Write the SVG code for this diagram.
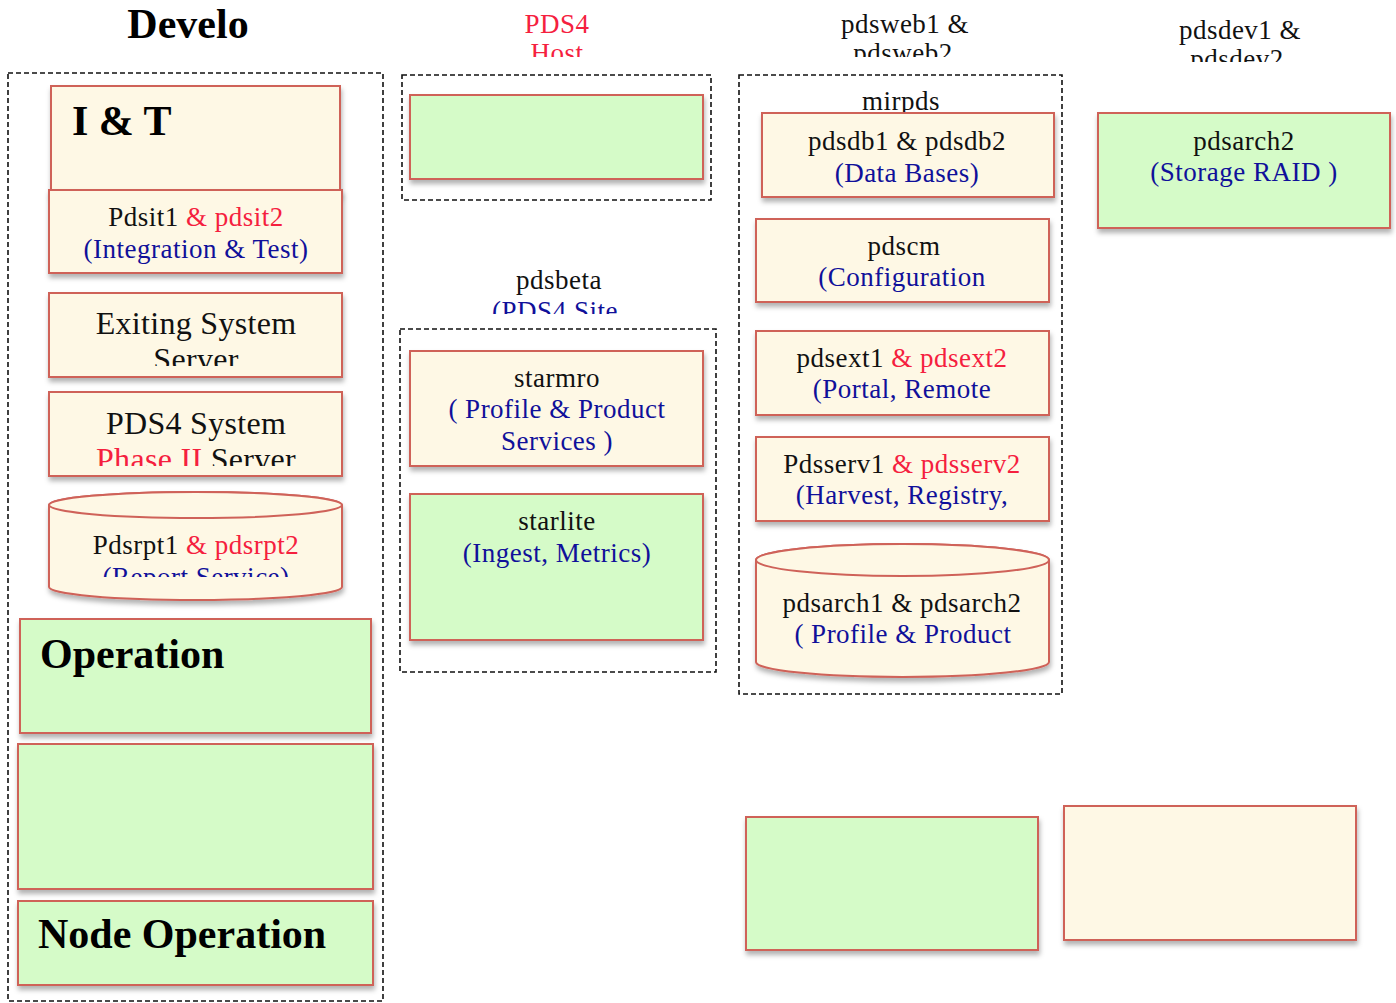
<svg xmlns="http://www.w3.org/2000/svg" width="1396" height="1003" viewBox="0 0 1396 1003">
<style>
.dash{fill:none;stroke:#111;stroke-width:1.6;stroke-dasharray:5,3}
.cream{fill:#fef8e5;stroke:#cf6259;stroke-width:2}
.green{fill:#d5fbc8;stroke:#cf6259;stroke-width:2}
.t{font-family:"Liberation Serif","Times New Roman",serif;font-size:27px;fill:#111;text-anchor:middle;letter-spacing:0.5px}
.big{font-size:32px;letter-spacing:0.3px}
.hd{font-family:"Liberation Serif","Times New Roman",serif;font-size:42px;font-weight:bold;fill:#000}
.red{fill:#f5203e}
.blue{fill:#10109a}
</style>
<defs>
<filter id="sh" x="-5%" y="-5%" width="112%" height="125%">
<feDropShadow dx="1" dy="4" stdDeviation="2.5" flood-color="#000" flood-opacity="0.3"/>
</filter>
<clipPath id="cHost"><rect x="400" y="0" width="320" height="57"/></clipPath>
<clipPath id="cWeb"><rect x="740" y="0" width="330" height="57"/></clipPath>
<clipPath id="cDev"><rect x="1090" y="0" width="300" height="62"/></clipPath>
<clipPath id="cBeta"><rect x="400" y="240" width="320" height="74"/></clipPath>
<clipPath id="cExit"><rect x="49" y="293" width="293" height="73"/></clipPath>
<clipPath id="cPds4"><rect x="49" y="392" width="293" height="74"/></clipPath>
<clipPath id="cRpt"><rect x="49" y="520" width="293" height="57"/></clipPath>
</defs>
<rect width="1396" height="1003" fill="#fff"/>

<g id="containers">
<rect class="dash" x="8" y="73" width="375" height="928"/>
<rect class="dash" x="402" y="75" width="309" height="125"/>
<rect class="dash" x="400" y="329" width="316" height="343"/>
<rect class="dash" x="739" y="75" width="323" height="619"/>
</g>

<g id="titles">
<text class="hd" x="188" y="38" text-anchor="middle">Develo</text>
<g clip-path="url(#cHost)"><text class="t red" x="557" y="33">PDS4</text><text class="t red" x="557" y="62">Host</text></g>
<g clip-path="url(#cWeb)"><text class="t" x="905" y="33">pdsweb1 &amp;</text><text class="t" x="903" y="62">pdsweb2</text></g>
<g clip-path="url(#cDev)"><text class="t" x="1240" y="39">pdsdev1 &amp;</text><text class="t" x="1237" y="68">pdsdev2</text></g>
<g clip-path="url(#cBeta)"><text class="t" x="559" y="289">pdsbeta</text><text class="t blue" x="555" y="320">(PDS4 Site</text></g>
<text class="t" x="901" y="110">mirpds</text>
</g>

<g id="connectors"></g>

<g id="it">
<rect class="cream" x="51" y="86" width="289" height="110" filter="url(#sh)"/>
<text class="hd" x="72" y="135">I &amp; T</text>
</g>
<g id="pdsit">
<rect class="cream" x="49" y="190" width="293" height="83" filter="url(#sh)"/>
<text class="t" x="196" y="226">Pdsit1 <tspan class="red">&amp; pdsit2</tspan></text>
<text class="t blue" x="196" y="258">(Integration &amp; Test)</text>
</g>
<g id="exiting">
<rect class="cream" x="49" y="293" width="293" height="84" filter="url(#sh)"/>
<g clip-path="url(#cExit)"><text class="t big" x="196" y="334">Exiting System</text><text class="t big" x="196" y="370">Server</text></g>
</g>
<g id="pds4sys">
<rect class="cream" x="49" y="392" width="293" height="84" filter="url(#sh)"/>
<g clip-path="url(#cPds4)"><text class="t big" x="196" y="434">PDS4 System</text><text class="t big" x="196" y="470"><tspan class="red">Phase II</tspan> Server</text></g>
</g>
<g id="pdsrpt">
<path class="cream" d="M49,505 A146.5,13 0 0 1 342,505 L342,587 A146.5,13 0 0 1 49,587 Z" filter="url(#sh)"/>
<ellipse class="cream" cx="195.5" cy="505" rx="146.5" ry="13"/>
<text class="t" x="196" y="554">Pdsrpt1 <tspan class="red">&amp; pdsrpt2</tspan></text>
<g clip-path="url(#cRpt)"><text class="t blue" x="196" y="586">(Report Service)</text></g>
</g>
<g id="operation">
<rect class="green" x="20" y="619" width="351" height="114" filter="url(#sh)"/>
<text class="hd" x="40" y="668">Operation</text>
</g>
<g id="opempty">
<rect class="green" x="18" y="744" width="355" height="145" filter="url(#sh)"/>
</g>
<g id="nodeop">
<rect class="green" x="18" y="901" width="355" height="84" filter="url(#sh)"/>
<text class="hd" x="38" y="948">Node Operation</text>
</g>

<g id="hostbox">
<rect class="green" x="410" y="95" width="293" height="84" filter="url(#sh)"/>
</g>
<g id="starmro">
<rect class="cream" x="410" y="351" width="293" height="115" filter="url(#sh)"/>
<text class="t" x="557" y="387">starmro</text>
<text class="t blue" x="557" y="418">( Profile &amp; Product</text>
<text class="t blue" x="557" y="450">Services )</text>
</g>
<g id="starlite">
<rect class="green" x="410" y="494" width="293" height="146" filter="url(#sh)"/>
<text class="t" x="557" y="530">starlite</text>
<text class="t blue" x="557" y="562">(Ingest, Metrics)</text>
</g>

<g id="pdsdb">
<rect class="cream" x="762" y="113" width="292" height="84" filter="url(#sh)"/>
<text class="t" x="907" y="150">pdsdb1 &amp; pdsdb2</text>
<text class="t blue" x="907" y="182">(Data Bases)</text>
</g>
<g id="pdscm">
<rect class="cream" x="756" y="219" width="293" height="83" filter="url(#sh)"/>
<text class="t" x="904" y="255">pdscm</text>
<text class="t blue" x="902" y="286">(Configuration</text>
</g>
<g id="pdsext">
<rect class="cream" x="756" y="331" width="293" height="84" filter="url(#sh)"/>
<text class="t" x="902" y="367">pdsext1 <tspan class="red">&amp; pdsext2</tspan></text>
<text class="t blue" x="902" y="398">(Portal, Remote</text>
</g>
<g id="pdsserv">
<rect class="cream" x="756" y="437" width="293" height="84" filter="url(#sh)"/>
<text class="t" x="902" y="473">Pdsserv1 <tspan class="red">&amp; pdsserv2</tspan></text>
<text class="t blue" x="902" y="504">(Harvest, Registry,</text>
</g>
<g id="pdsarch">
<path class="cream" d="M756,560 A146.5,16 0 0 1 1049,560 L1049,662 A146.5,15 0 0 1 756,662 Z" filter="url(#sh)"/>
<ellipse class="cream" cx="902.5" cy="560" rx="146.5" ry="16"/>
<text class="t" x="902" y="612">pdsarch1 &amp; pdsarch2</text>
<text class="t blue" x="903" y="643">( Profile &amp; Product</text>
</g>

<g id="pdsarch2">
<rect class="green" x="1098" y="113" width="292" height="115" filter="url(#sh)"/>
<text class="t" x="1244" y="150">pdsarch2</text>
<text class="t blue" x="1244" y="181">(Storage RAID )</text>
</g>
<g id="bottomgreen">
<rect class="green" x="746" y="817" width="292" height="133" filter="url(#sh)"/>
</g>
<g id="bottomcream">
<rect class="cream" x="1064" y="806" width="292" height="134" filter="url(#sh)"/>
</g>
</svg>
